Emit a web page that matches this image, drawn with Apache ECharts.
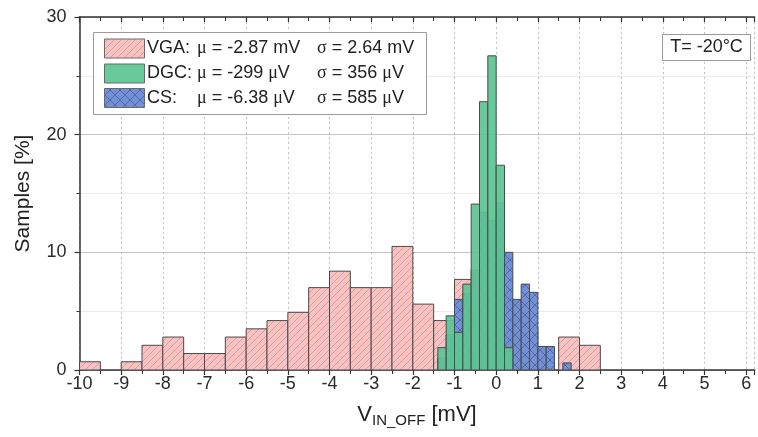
<!DOCTYPE html>
<html>
<head>
<meta charset="utf-8">
<script src="https://cdn.jsdelivr.net/npm/echarts@6/dist/echarts.min.js"></script>
<style>
  html, body { margin: 0; padding: 0; background: #fff; }
  #chart { width: 758px; height: 437px; }
</style>
</head>
<body>
<div id="chart"></div>
<script>
// Histogram bins: left edge (mV) and share of samples (%) per bin
const vgaBinStart = [-10, -9.5, -9, -8.5, -8, -7.5, -7, -6.5, -6, -5.5, -5, -4.5, -4, -3.5, -3, -2.5, -2, -1.5, -1, -0.5, 0, 0.5, 1, 1.5, 2];
const vgaPercent  = [0.7, 0, 0.7, 2.1, 2.8, 1.4, 1.4, 2.8, 3.5, 4.2, 4.9, 7.0, 8.4, 7.0, 7.0, 10.5, 5.6, 4.2, 7.7, 5.6, 4.2, 3.5, 0, 2.8, 2.1];
const vgaBinWidth = 0.5;

const dgcBinStart = [-1.4, -1.2, -1.0, -0.8, -0.6, -0.4, -0.2, 0, 0.2];
const dgcPercent  = [1.9, 4.6, 3.2, 7.3, 14.1, 22.8, 26.7, 17.4, 1.9];

const csBinStart = [-1.4, -1.2, -1.0, -0.8, -0.6, -0.4, -0.2, 0, 0.2, 0.4, 0.6, 0.8, 1.0, 1.2, 1.4, 1.6];
const csPercent  = [1.0, 3.0, 6.0, 6.5, 8.5, 13.4, 12.7, 14.2, 10.0, 6.0, 7.3, 6.6, 2.0, 2.0, 0, 0.6];
const fineBinWidth = 0.2;

// Legend entries: name, mean, spread
const legendNames = ['VGA:', 'DGC:', 'CS:'];
const legendMu    = [['-2.87 ', 'm'], ['-299 ', 'μ'], ['-6.38 ', 'μ']];
const legendSigma = [['2.64 ', 'm'], ['356 ', 'μ'], ['585 ', 'μ']];
const tempLabel = 'T= -20°C';

const SANS = '"Liberation Sans", Arial, sans-serif';
const SERIF = '"Liberation Serif", "Times New Roman", serif';

// Tiled hatch fills
function hatchPattern(base, line, size, dirs, lw) {
  const c = document.createElement('canvas');
  c.width = size; c.height = size;
  const g = c.getContext('2d');
  g.fillStyle = base;
  g.fillRect(0, 0, size, size);
  g.strokeStyle = line;
  g.lineWidth = lw;
  dirs.forEach(function (d) {
    g.beginPath();
    if (d === '/') {
      g.moveTo(-1, size + 1); g.lineTo(size + 1, -1);
      g.moveTo(-1, 1); g.lineTo(1, -1);
      g.moveTo(size - 1, size + 1); g.lineTo(size + 1, size - 1);
    } else {
      g.moveTo(-1, -1); g.lineTo(size + 1, size + 1);
      g.moveTo(size - 1, -1); g.lineTo(size + 1, 1);
      g.moveTo(-1, size - 1); g.lineTo(1, size + 1);
    }
    g.stroke();
  });
  return { image: c, repeat: 'repeat' };
}

const pinkFill = hatchPattern('#f7c2c2', '#e49b9b', 7, ['/'], 1);
const blueFill = hatchPattern('#7490d4', '#4f69b0', 10, ['/', '\\'], 1);
const greenFill = 'rgba(92,197,147,0.93)';
const barStroke = '#4a4a4a';

function histSeries(name, starts, width, values, fill, z) {
  return {
    type: 'custom',
    name: name,
    z: z,
    clip: true,
    encode: { x: [0, 1], y: 2 },
    data: starts.map(function (s, i) { return [s, +(s + width).toFixed(2), values[i]]; }),
    renderItem: function (params, api) {
      const v = api.value(2);
      if (!v) return null;
      const a = api.coord([api.value(0), v]);
      const b = api.coord([api.value(1), 0]);
      return {
        type: 'rect',
        shape: { x: a[0], y: a[1], width: b[0] - a[0], height: b[1] - a[1] },
        style: { fill: fill, stroke: barStroke, lineWidth: 1 }
      };
    }
  };
}

// Legend block drawn as graphic elements
const legendGraphics = [{
  type: 'rect', z: 100,
  shape: { x: 93.5, y: 32.5, width: 333, height: 82 },
  style: { fill: '#fff', stroke: '#9a9a9a', lineWidth: 1 }
}];
const legendFills = [pinkFill, greenFill, blueFill];
const rowY = [48.5, 73.5, 98];
legendNames.forEach(function (n, i) {
  legendGraphics.push({
    type: 'rect', z: 101,
    shape: { x: 104.5, y: rowY[i] - 9.5, width: 40, height: 19 },
    style: { fill: legendFills[i], stroke: '#6a6a6a', lineWidth: 1 }
  });
  legendGraphics.push({
    type: 'text', z: 101, x: 147, y: rowY[i],
    style: { text: n, font: '18px ' + SANS, fill: '#222', verticalAlign: 'middle' }
  });
  legendGraphics.push({
    type: 'text', z: 101, x: 197, y: rowY[i],
    style: {
      text: '{g|μ}{t| = ' + legendMu[i][0] + '}' + (legendMu[i][1] === 'm' ? '{t|mV}' : '{g|μ}{t|V}'),
      verticalAlign: 'middle',
      rich: {
        g: { fontFamily: SERIF, fontSize: 18, fill: '#222' },
        t: { fontFamily: SANS, fontSize: 18, fill: '#222' }
      }
    }
  });
  legendGraphics.push({
    type: 'text', z: 101, x: 317, y: rowY[i],
    style: {
      text: '{g|σ}{t| = ' + legendSigma[i][0] + '}' + (legendSigma[i][1] === 'm' ? '{t|mV}' : '{g|μ}{t|V}'),
      verticalAlign: 'middle',
      rich: {
        g: { fontFamily: SERIF, fontSize: 18, fill: '#222' },
        t: { fontFamily: SANS, fontSize: 18, fill: '#222' }
      }
    }
  });
});
legendGraphics.push({
  type: 'rect', z: 100,
  shape: { x: 662.5, y: 34.5, width: 88, height: 26 },
  style: { fill: '#fff', stroke: '#9a9a9a', lineWidth: 1 }
});
legendGraphics.push({
  type: 'text', z: 101, x: 706.5, y: 47.5,
  style: { text: tempLabel, font: '18px ' + SANS, fill: '#222', align: 'center', verticalAlign: 'middle' }
});

const axisColor = '#333';
const chart = echarts.init(document.getElementById('chart'), null, { renderer: 'canvas' });
chart.setOption({
  animation: false,
  backgroundColor: '#fff',
  grid: { left: 79.5, right: 3.5, top: 17, bottom: 67, containLabel: false },
  xAxis: [{
    type: 'value', min: -10, max: 6.2, interval: 1, position: 'bottom',
    axisLine: { onZero: false, lineStyle: { color: axisColor, width: 1.5 } },
    axisTick: { show: true, length: 5, lineStyle: { color: axisColor, width: 1.2 } },
    minorTick: { show: true, splitNumber: 2, length: 4, lineStyle: { color: axisColor, width: 1 } },
    axisLabel: { fontSize: 18, color: '#2a2a2a', fontFamily: SANS, margin: 5, showMaxLabel: false },
    splitLine: { show: true, lineStyle: { color: '#c2c2c2', type: [2, 3], width: 1 } },
    name: '{v|V}{s|IN_OFF}{v| [mV]}',
    nameLocation: 'middle', nameGap: 27,
    nameTextStyle: {
      rich: {
        v: { fontSize: 22, fontFamily: SANS, color: '#222', lineHeight: 24, verticalAlign: 'top' },
        s: { fontSize: 15, fontFamily: SANS, color: '#222', lineHeight: 15, verticalAlign: 'bottom', padding: [15, 0, 0, 0] }
      }
    }
  }, {
    type: 'value', min: -10, max: 6.2, interval: 1, position: 'top',
    axisLine: { onZero: false, lineStyle: { color: axisColor, width: 1.5 } },
    axisTick: { show: true, inside: true, length: 5, lineStyle: { color: axisColor, width: 1.2 } },
    minorTick: { show: true, splitNumber: 2, length: 4, lineStyle: { color: axisColor, width: 1 } },
    axisLabel: { show: false },
    splitLine: { show: false }
  }],
  yAxis: {
    type: 'value', min: 0, max: 30, interval: 10, position: 'left',
    axisLine: { show: true, onZero: false, lineStyle: { color: axisColor, width: 1.5 } },
    axisTick: { show: true, length: 5, lineStyle: { color: axisColor, width: 1.2 } },
    minorTick: { show: true, splitNumber: 2, length: 3, lineStyle: { color: axisColor, width: 1 } },
    axisLabel: { fontSize: 18, color: '#2a2a2a', fontFamily: SANS, margin: 13 },
    splitLine: { show: true, lineStyle: { color: '#c6c6c6', width: 1.2 } },
    minorSplitLine: { show: true, lineStyle: { color: '#ececec', width: 1 } },
    name: 'Samples [%]', nameLocation: 'middle', nameGap: 46,
    nameTextStyle: { fontSize: 21, fontFamily: SANS, color: '#222' }
  },
  series: [
    histSeries('VGA', vgaBinStart, vgaBinWidth, vgaPercent, pinkFill, 2),
    histSeries('CS', csBinStart, fineBinWidth, csPercent, blueFill, 3),
    histSeries('DGC', dgcBinStart, fineBinWidth, dgcPercent, greenFill, 4)
  ],
  graphic: { elements: legendGraphics }
});
</script>
</body>
</html>
